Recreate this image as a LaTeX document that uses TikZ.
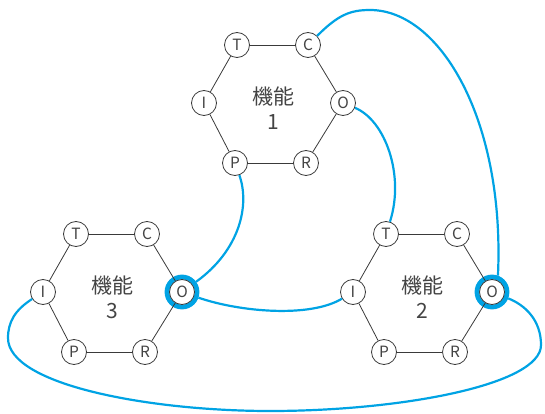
\documentclass[tikz,border=0pt]{standalone}
\usepackage{fontspec}
\setmainfont{Noto Sans CJK JP}
\definecolor{linegray}{HTML}{3A3A3A}
\definecolor{textgray}{HTML}{444444}
\definecolor{linkblue}{HTML}{00A3E4}
\tikzset{
  port/.style={circle, draw=linegray, fill=white, line width=0.8pt,
    minimum size=25pt, inner sep=0pt, text=textgray,
    font=\fontsize{15.5}{15.5}\selectfont},
  hexedge/.style={draw=linegray, line width=0.8pt},
  link/.style={draw=linkblue, line width=2.2pt},
  ring/.style={circle, draw=linkblue, line width=4.8pt, minimum size=30pt, inner sep=0pt},
  fname/.style={align=center, text=textgray, font=\fontsize{21}{25}\selectfont, inner sep=0pt},
}
\begin{document}
\begin{tikzpicture}[x=1pt,y=-1pt]
\useasboundingbox (0,0) rectangle (545,414);
% highlight rings
\node[ring] (O3r) at (182,292) {};
\node[ring] (O2r) at (492,292) {};
% function 1
\node[port] (T1) at (237,45) {T};
\node[port] (C1) at (308,45) {C};
\node[port] (O1) at (343,103) {O};
\node[port] (R1) at (306,163) {R};
\node[port] (P1) at (235,163) {P};
\node[port] (I1) at (204,103) {I};
\node[fname] (F1) at (273,108) {機能\\1};
% function 3
\node[port] (T3) at (76,234) {T};
\node[port] (C3) at (147,234) {C};
\node[port] (O3) at (182,292) {O};
\node[port] (R3) at (145,352) {R};
\node[port] (P3) at (74,352) {P};
\node[port] (I3) at (43,292) {I};
\node[fname] (F3) at (112,297) {機能\\3};
% function 2
\node[port] (T2) at (386,234) {T};
\node[port] (C2) at (457,234) {C};
\node[port] (O2) at (492,292) {O};
\node[port] (R2) at (455,352) {R};
\node[port] (P2) at (384,352) {P};
\node[port] (I2) at (353,292) {I};
\node[fname] (F2) at (422,297) {機能\\2};
% hexagon edges
\foreach \k in {1,2,3}{
  \draw[hexedge] (T\k) -- (C\k);
  \draw[hexedge] (C\k) -- (O\k);
  \draw[hexedge] (O\k) -- (R\k);
  \draw[hexedge] (R\k) -- (P\k);
  \draw[hexedge] (P\k) -- (I\k);
  \draw[hexedge] (I\k) -- (T\k);
}
% links
\coordinate (pk1) at (370,10);
\coordinate (bl) at (8,338);
\coordinate (bb) at (270,411);
\coordinate (br) at (541,345);
\draw[link] (C1) .. controls (338,15) and (350,10) .. (pk1)
  .. controls (440,10) and (505,120) .. (O2r.70);
\draw[link] (O1) .. controls (385,120) and (405,175) .. (T2);
\draw[link] (P1) .. controls (250,205) and (240,250) .. (O3r);
\draw[link] (O3r) .. controls (240,312) and (310,318) .. (I2);
\draw[link] (I3) .. controls (15,310) and (8,322) .. (bl)
  .. controls (8,385) and (150,411) .. (bb)
  .. controls (400,411) and (541,385) .. (br)
  .. controls (541,320) and (525,305) .. (O2r);
\end{tikzpicture}
\end{document}
